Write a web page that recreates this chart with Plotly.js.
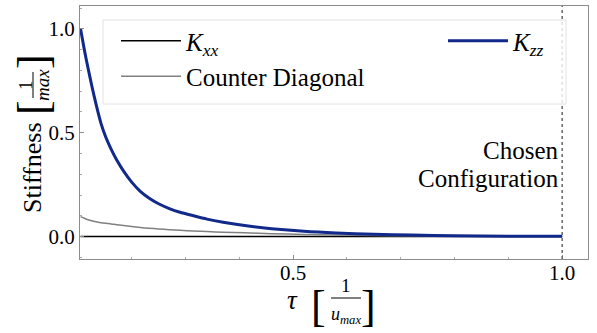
<!DOCTYPE html>
<html>
<head>
<meta charset="utf-8">
<script src="https://cdn.plot.ly/plotly-3.0.1.min.js"></script>
<style>
  html, body { margin: 0; padding: 0; background: #fff; }
  #chart { width: 597px; height: 333px; }
</style>
</head>
<body>
<div id="chart"></div>
<script>
// tau values
const tau = [0.105, 0.112, 0.119, 0.126, 0.134, 0.143, 0.152, 0.162, 0.172, 0.185, 0.2, 0.216, 0.232, 0.25, 0.27, 0.29, 0.315, 0.34, 0.37, 0.41, 0.46, 0.52, 0.58, 0.65, 0.72, 0.8, 0.9, 1.0];
const kxx = [0, 0, 0, 0, 0, 0, 0, 0, 0, 0, 0, 0, 0, 0, 0, 0, 0, 0, 0, 0, 0, 0, 0, 0, 0, 0, 0, 0];
const counterDiag = [0.096, 0.088, 0.081, 0.076, 0.071, 0.067, 0.064, 0.061, 0.057, 0.053, 0.049, 0.044, 0.040, 0.037, 0.033, 0.030, 0.027, 0.024, 0.021, 0.018, 0.014, 0.010, 0.007, 0.005, 0.004, 0.003, 0.002, 0.001];
const kzz = [1.0, 0.90, 0.81, 0.725, 0.635, 0.545, 0.478, 0.42, 0.37, 0.315, 0.262, 0.218, 0.186, 0.158, 0.135, 0.117, 0.10, 0.084, 0.069, 0.053, 0.038, 0.025, 0.017, 0.011, 0.007, 0.004, 0.002, 0.001];
const chosenTau = 1.0;
const xTickVals = [0.5, 1.0];
const yTickVals = [0.0, 0.5, 1.0];

const serif = 'Liberation Serif';

// plot area in pixels (for placing the hand built titles)
const L = 80, R = 9, T = 6, B = 74, W = 597, H = 333;
const pw = W - L - R, ph = H - T - B;
const px = (x) => (x - L) / pw;
const py = (y) => (H - B - y) / ph;

const traces = [
	{x: tau, y: kxx, name: '<i>K</i><sub><i>xx</i></sub>', mode: 'lines',
	 line: {color: '#000000', width: 1.5}, legend: 'legend'},
	{x: tau, y: counterDiag, name: 'Counter Diagonal', mode: 'lines',
	 line: {color: '#808080', width: 1.5, shape: 'spline', smoothing: 0.6}, legend: 'legend'},
	{x: tau, y: kzz, name: '<i>K</i><sub><i>zz</i></sub>', mode: 'lines',
	 line: {color: '#10298a', width: 3, shape: 'spline', smoothing: 0.6}, legend: 'legend2'}
];

const ann = (text, x, y, size, extra) => Object.assign({
	text: text, xref: 'paper', yref: 'paper', x: px(x), y: py(y),
	showarrow: false, xanchor: 'center', yanchor: 'middle',
	font: {family: serif, size: size, color: '#000'}
}, extra || {});

const annotations = [
	{text: 'Chosen', xref: 'x', yref: 'paper', x: chosenTau, y: py(150),
	 xanchor: 'right', yanchor: 'middle', xshift: -1, showarrow: false,
	 font: {family: serif, size: 25, color: '#000'}},
	{text: 'Configuration', xref: 'x', yref: 'paper', x: chosenTau, y: py(178),
	 xanchor: 'right', yanchor: 'middle', xshift: -1, showarrow: false,
	 font: {family: serif, size: 25, color: '#000'}},
	// x title: tau [1/u_max]
	ann('<i>τ</i>', 292, 300, 27),
	ann('[', 318, 306, 44),
	ann('1', 346, 285, 19),
	ann('<i>u</i><sub><i>max</i></sub>', 346, 315, 18),
	ann(']', 368, 306, 44),
	// y title: Stiffness [1/max]
	ann('Stiffness', 32, 168, 26, {textangle: -90}),
	ann('[', 33, 108, 44, {textangle: -90}),
	ann('1', 25, 85, 19, {textangle: -90}),
	ann('<i>max</i>', 42, 85, 19, {textangle: -90}),
	ann(']', 33, 62, 44, {textangle: -90})
];

const shapes = [
	{type: 'line', xref: 'x', yref: 'paper', x0: chosenTau, x1: chosenTau, y0: 0, y1: 1,
	 line: {color: '#666666', width: 1.5, dash: 'dot'}},
	// bar of the fractions in the titles
	{type: 'line', xref: 'paper', yref: 'paper', x0: px(331), x1: px(361), y0: py(298), y1: py(298),
	 line: {color: '#000', width: 1}},
	{type: 'line', xref: 'paper', yref: 'paper', x0: px(33), x1: px(33), y0: py(72), y1: py(98),
	 line: {color: '#000', width: 1}},
	// legend frame
	{type: 'rect', xref: 'paper', yref: 'paper', x0: px(103), x1: px(566), y0: py(104), y1: py(20),
	 fillcolor: 'rgba(255,255,255,0.8)', line: {color: '#e2e2e2', width: 1}, layer: 'above'}
];

const axisCommon = {
	showgrid: false, zeroline: false, showline: true, mirror: true,
	linecolor: '#8c8c8c', linewidth: 1,
	ticks: 'inside', ticklen: 4, tickcolor: '#8c8c8c',
	tickfont: {family: serif, size: 21, color: '#000'},
	tickformat: '.1f',
	minor: {dtick: 0.1, ticks: 'inside', ticklen: 2, tickcolor: '#aaaaaa'}
};

const layout = {
	width: W, height: H,
	margin: {l: L, r: R, t: T, b: B},
	paper_bgcolor: '#fff', plot_bgcolor: '#fff',
	font: {family: serif},
	showlegend: true,
	xaxis: Object.assign({}, axisCommon, {range: [0.104, 1.048], tickvals: xTickVals, ticklabelstandoff: -5}),
	yaxis: Object.assign({}, axisCommon, {range: [-0.108, 1.11], tickvals: yTickVals}),
	legend: {x: px(116), y: py(18), xanchor: 'left', yanchor: 'top',
		bgcolor: 'rgba(0,0,0,0)', borderwidth: 0, itemwidth: 60,
		font: {family: serif, size: 25, color: '#000'}, tracegroupgap: 0},
	legend2: {x: px(443), y: py(18), xanchor: 'left', yanchor: 'top',
		bgcolor: 'rgba(0,0,0,0)', borderwidth: 0, itemwidth: 60,
		font: {family: serif, size: 25, color: '#000'}},
	annotations: annotations,
	shapes: shapes
};

Plotly.newPlot('chart', traces, layout, {displayModeBar: false, staticPlot: true});
</script>
</body>
</html>
